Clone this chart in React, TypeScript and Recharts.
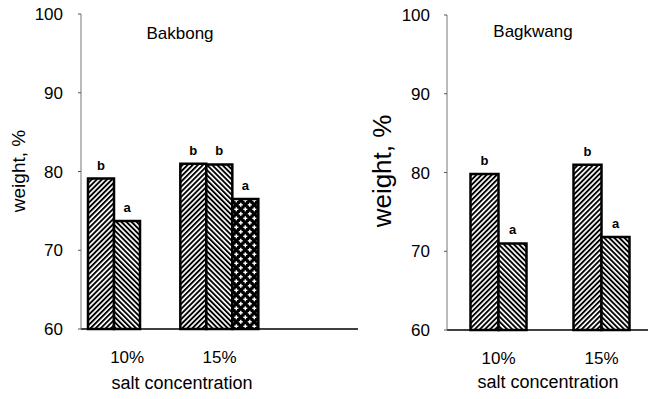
import { BarChart, Bar, XAxis, YAxis, LabelList } from 'recharts'

// Bakbong (left panel)
const bakbongCats = ['10%', '15%', '']
const bakbongS1 = [79.1, 81.0, null]
const bakbongS2 = [73.7, 80.9, null]
const bakbongS3 = [null, 76.5, null]
const bakbongL1 = ['b', 'b', '']
const bakbongL2 = ['a', 'b', '']
const bakbongL3 = ['', 'a', '']

// Bagkwang (right panel)
const bagkwangCats = ['10%', '15%']
const bagkwangS1 = [79.8, 81.0]
const bagkwangS2 = [71.0, 71.8]
const bagkwangL1 = ['b', 'b']
const bagkwangL2 = ['a', 'a']

const yTicks = [60, 70, 80, 90, 100]

const FONT = '"Liberation Sans", Arial, Helvetica, sans-serif'
const INK = '#000'

const bakbongData = bakbongCats.map((cat, i) => ({
  cat,
  s1: bakbongS1[i],
  s2: bakbongS2[i],
  s3: bakbongS3[i],
  l1: bakbongL1[i],
  l2: bakbongL2[i],
  l3: bakbongL3[i],
}))

const bagkwangData = bagkwangCats.map((cat, i) => ({
  cat,
  s1: bagkwangS1[i],
  s2: bagkwangS2[i],
  l1: bagkwangL1[i],
  l2: bagkwangL2[i],
}))

function Patterns({ id }: { id: string }) {
  return (
    <defs>
      <pattern id={`fwd-${id}`} width="3.6" height="4" patternUnits="userSpaceOnUse" patternTransform="rotate(45)">
        <rect width="3.6" height="4" fill="#fff" />
        <rect width="1.9" height="4" fill={INK} />
      </pattern>
      <pattern id={`back-${id}`} width="3.6" height="4" patternUnits="userSpaceOnUse" patternTransform="rotate(-45)">
        <rect width="3.6" height="4" fill="#fff" />
        <rect width="1.9" height="4" fill={INK} />
      </pattern>
      <pattern id={`cross-${id}`} width="9" height="9" patternUnits="userSpaceOnUse">
        <rect width="9" height="9" fill={INK} />
        <rect x="1.6" y="0.3" width="1.4" height="4" fill="#fff" />
        <rect x="0.3" y="1.6" width="4" height="1.4" fill="#fff" />
        <rect x="6.1" y="4.8" width="1.4" height="4" fill="#fff" />
        <rect x="4.8" y="6.1" width="4" height="1.4" fill="#fff" />
      </pattern>
    </defs>
  )
}

const tickStyle = { fontSize: 17, fill: INK, fontFamily: FONT }
const barLabel = { fontSize: 13, fontWeight: 700, fill: INK, fontFamily: FONT }

export default function App() {
  return (
    <div style={{ position: 'absolute', left: 0, top: 0, width: 648, height: 399, background: '#fff', overflow: 'hidden' }}>
      <div style={{ position: 'absolute', left: 0, top: 0 }}>
        <BarChart
          width={370}
          height={399}
          data={bakbongData}
          margin={{ top: 14, right: 12, left: 21, bottom: 40 }}
          barCategoryGap={7}
          barGap={0}
        >
          <Patterns id="l" />
          <XAxis
            dataKey="cat"
            tickLine={false}
            tickSize={0}
            tickMargin={22}
            axisLine={{ stroke: INK, strokeWidth: 1.5 }}
            tick={tickStyle}
            height={30}
          />
          <YAxis
            domain={[60, 100]}
            ticks={yTicks}
            width={60}
            tickSize={3}
            tickMargin={15}
            axisLine={{ stroke: '#777', strokeWidth: 1 }}
            tickLine={{ stroke: '#555' }}
            tick={tickStyle}
          />
          <Bar dataKey="s1" fill="url(#fwd-l)" stroke={INK} strokeWidth={2.5} isAnimationActive={false}>
            <LabelList dataKey="l1" position="top" offset={9} style={barLabel} />
          </Bar>
          <Bar dataKey="s2" fill="url(#back-l)" stroke={INK} strokeWidth={2.5} isAnimationActive={false}>
            <LabelList dataKey="l2" position="top" offset={9} style={barLabel} />
          </Bar>
          <Bar dataKey="s3" fill="url(#cross-l)" stroke={INK} strokeWidth={2.5} isAnimationActive={false}>
            <LabelList dataKey="l3" position="top" offset={9} style={barLabel} />
          </Bar>
        </BarChart>
      </div>

      <div style={{ position: 'absolute', left: 370, top: 0, width: 278, height: 399, overflow: 'hidden' }}>
        <BarChart
          width={283}
          height={399}
          data={bagkwangData}
          margin={{ top: 15, right: 0, left: 17, bottom: 39 }}
          barCategoryGap={23.5}
          barGap={0}
        >
          <Patterns id="r" />
          <XAxis
            dataKey="cat"
            tickLine={false}
            tickSize={0}
            tickMargin={22}
            axisLine={{ stroke: INK, strokeWidth: 1.5 }}
            tick={tickStyle}
            height={30}
          />
          <YAxis
            domain={[60, 100]}
            ticks={yTicks}
            width={60}
            tickSize={3}
            tickMargin={14}
            axisLine={{ stroke: '#777', strokeWidth: 1 }}
            tickLine={{ stroke: '#555' }}
            tick={tickStyle}
          />
          <Bar dataKey="s1" fill="url(#fwd-r)" stroke={INK} strokeWidth={2.5} isAnimationActive={false}>
            <LabelList dataKey="l1" position="top" offset={9} style={barLabel} />
          </Bar>
          <Bar dataKey="s2" fill="url(#back-r)" stroke={INK} strokeWidth={2.5} isAnimationActive={false}>
            <LabelList dataKey="l2" position="top" offset={9} style={barLabel} />
          </Bar>
        </BarChart>
      </div>

      <svg width={648} height={399} style={{ position: 'absolute', left: 0, top: 0, pointerEvents: 'none' }}>
        <g fontFamily={FONT} fill={INK}>
          <text x={180} y={39} fontSize={17} textAnchor="middle">Bakbong</text>
          <text x={533} y={37} fontSize={17} textAnchor="middle">Bagkwang</text>
          <text x={182} y={389} fontSize={18} textAnchor="middle">salt concentration</text>
          <text x={548} y={388} fontSize={18} textAnchor="middle">salt concentration</text>
          <text transform="translate(25,171) rotate(-90)" fontSize={19} textAnchor="middle">weight, %</text>
          <text transform="translate(391,171) rotate(-90)" fontSize={26} textAnchor="middle">weight, %</text>
        </g>
      </svg>
    </div>
  )
}
